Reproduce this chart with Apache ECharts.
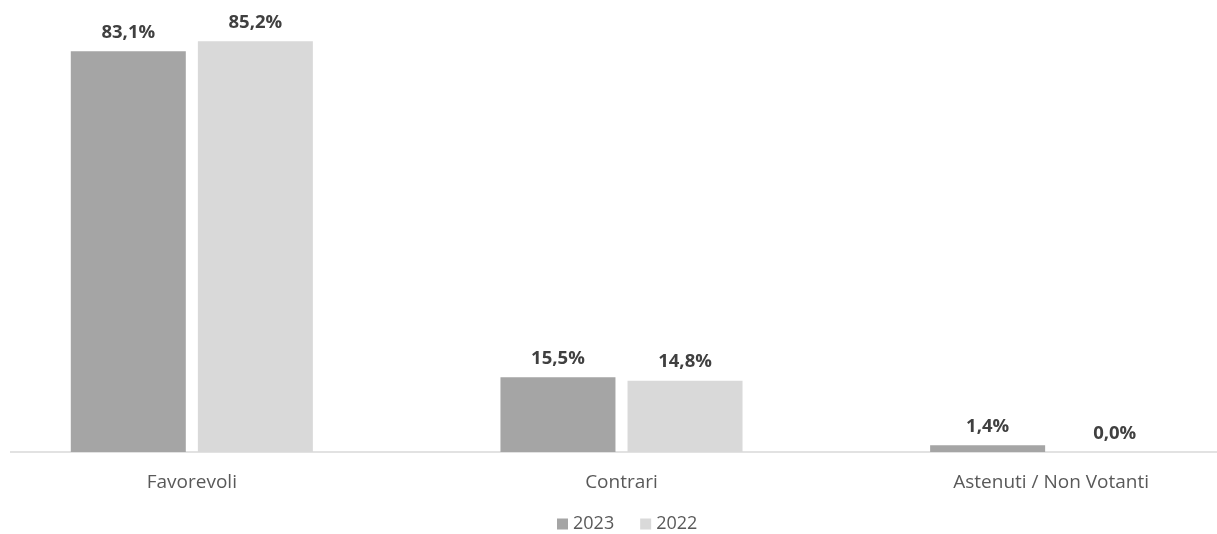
<!DOCTYPE html>
<html>
<head>
<meta charset="utf-8">
<script src="https://cdn.jsdelivr.net/npm/echarts@6/dist/echarts.min.js"></script>
<style>
html,body{margin:0;padding:0;background:#fff;overflow:hidden;}
#wrap{width:1217px;height:534px;overflow:hidden;position:relative;}
#chart{width:1300px;height:540px;position:absolute;left:-23px;top:0;}
</style>
</head>
<body>
<div id="wrap"><div id="chart"></div></div>
<script>
const categories = ['Favorevoli', 'Contrari', 'Astenuti / Non Votanti'];
const seriesNames = ['2023', '2022'];
const values2023 = [83.1, 15.5, 1.4];
const values2022 = [85.2, 14.8, 0.0];

const fmt = p => p.value.toFixed(1).replace('.', ',') + '%';
const labelStyle = {
  show: true, position: 'top', distance: 9,
  formatter: fmt, fontFamily: 'Open Sans', fontWeight: 'bold',
  fontSize: 18.5, color: '#404040'
};

const chart = echarts.init(document.getElementById('chart'));
chart.setOption({
  animation: false,
  textStyle: { fontFamily: 'Open Sans' },
  grid: { left: 0, width: 1289, top: 18, bottom: 88, containLabel: false },
  xAxis: {
    type: 'category', data: categories,
    axisLine: { lineStyle: { color: '#d9d9d9', width: 1.5 } },
    axisTick: { show: false },
    axisLabel: { color: '#595959', fontSize: 19, margin: 21, fontFamily: 'Open Sans' }
  },
  yAxis: { type: 'value', min: 0, max: 90, show: false, splitLine: { show: false } },
  legend: {
    top: 510, left: 575, itemWidth: 11, itemHeight: 11, itemGap: 26,
    icon: 'rect',
    textStyle: { color: '#595959', fontSize: 18, fontFamily: 'Open Sans' },
    data: seriesNames
  },
  graphic: [{ type: 'rect', left: 0, top: 445, shape: { width: 33, height: 14 }, style: { fill: '#fff' }, z: 100 }],
  series: [
    { name: seriesNames[0], type: 'bar', data: values2023, barWidth: 115, barGap: '10.5%',
      itemStyle: { color: '#a5a5a5' }, label: labelStyle },
    { name: seriesNames[1], type: 'bar', data: values2022, barWidth: 115,
      itemStyle: { color: '#d9d9d9' }, label: labelStyle }
  ]
});
</script>
</body>
</html>
